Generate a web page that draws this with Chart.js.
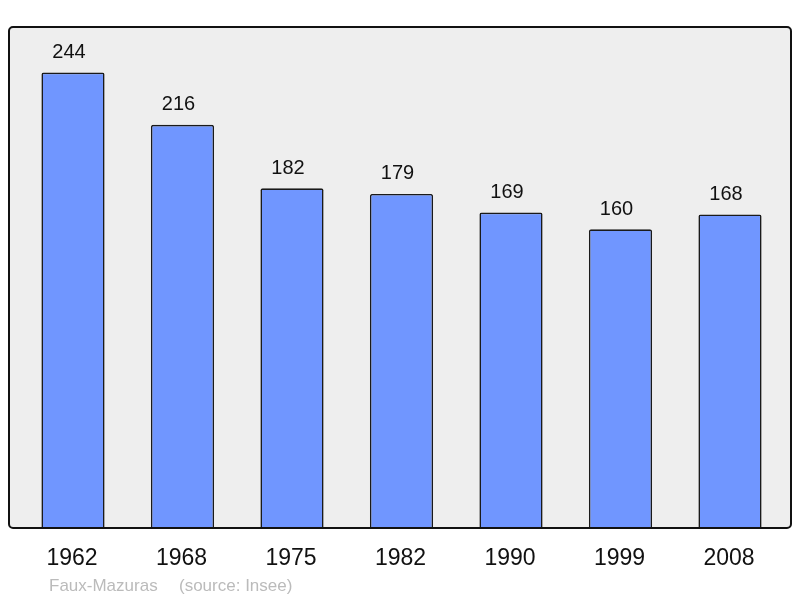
<!DOCTYPE html>
<html>
<head>
<meta charset="utf-8">
<script src="https://cdn.jsdelivr.net/npm/chart.js@4/dist/chart.umd.min.js"></script>
<style>
  html, body { margin: 0; padding: 0; background: #fff; }
  #wrap { width: 800px; height: 598px; position: relative; }
</style>
</head>
<body>
<div id="wrap"><canvas id="chart"></canvas></div>
<script>
const years = ['1962', '1968', '1975', '1982', '1990', '1999', '2008'];
const population = [244, 216, 182, 179, 169, 160, 168];
const commune = 'Faux-Mazuras';
const source = '(source: Insee)';

const FONT = '"Liberation Sans", Arial, sans-serif';

// frame + labels drawn around the library's chart area
const framePlugin = {
  id: 'frame',
  _box(chart) {
    const a = chart.chartArea;
    return { x: 9, y: a.top, w: 782, h: a.bottom - a.top };
  },
  _path(ctx, b, r) {
    ctx.beginPath();
    ctx.moveTo(b.x + r, b.y);
    ctx.lineTo(b.x + b.w - r, b.y);
    ctx.arcTo(b.x + b.w, b.y, b.x + b.w, b.y + r, r);
    ctx.lineTo(b.x + b.w, b.y + b.h - r);
    ctx.arcTo(b.x + b.w, b.y + b.h, b.x + b.w - r, b.y + b.h, r);
    ctx.lineTo(b.x + r, b.y + b.h);
    ctx.arcTo(b.x, b.y + b.h, b.x, b.y + b.h - r, r);
    ctx.lineTo(b.x, b.y + r);
    ctx.arcTo(b.x, b.y, b.x + r, b.y, r);
    ctx.closePath();
  },
  beforeDatasetsDraw(chart) {
    const ctx = chart.ctx;
    ctx.save();
    this._path(ctx, this._box(chart), 4);
    ctx.fillStyle = '#eeeeee';
    ctx.fill();
    ctx.restore();
  },
  afterDatasetsDraw(chart) {
    const ctx = chart.ctx;
    const meta = chart.getDatasetMeta(0);
    const xScale = chart.scales.x;
    const bottom = chart.chartArea.bottom;
    ctx.save();
    this._path(ctx, this._box(chart), 4);
    ctx.strokeStyle = '#111111';
    ctx.lineWidth = 2;
    ctx.stroke();

    ctx.fillStyle = '#111111';
    ctx.textAlign = 'center';
    ctx.textBaseline = 'middle';
    ctx.font = '20px ' + FONT;
    meta.data.forEach((bar, i) => {
      ctx.fillText(String(population[i]), bar.x - 4, bar.y - 20);
    });

    ctx.font = '23px ' + FONT;
    years.forEach((y, i) => {
      ctx.fillText(y, xScale.getPixelForValue(i) - 1, bottom + 30.5);
    });

    ctx.fillStyle = '#bbbbbb';
    ctx.textAlign = 'left';
    ctx.font = '17px ' + FONT;
    ctx.fillText(commune, 49, bottom + 58);
    ctx.fillText(source, 179, bottom + 58);
    ctx.restore();
  }
};

new Chart(document.getElementById('chart'), {
  type: 'bar',
  data: {
    labels: years,
    datasets: [{
      data: population,
      backgroundColor: '#7096ff',
      borderColor: '#1a1a1a',
      borderWidth: 1.6,
      borderRadius: 2,
      borderSkipped: 'bottom',
      barPercentage: 0.577,
      categoryPercentage: 1
    }]
  },
  options: {
    responsive: true,
    maintainAspectRatio: false,
    animation: false,
    layout: { padding: { left: 18.25, right: 15.25, top: 27, bottom: 70 } },
    scales: {
      x: { display: false },
      y: { display: false, min: 0, max: 268.4 }
    },
    plugins: {
      legend: { display: false },
      tooltip: { enabled: false }
    }
  },
  plugins: [framePlugin]
});
</script>
</body>
</html>
